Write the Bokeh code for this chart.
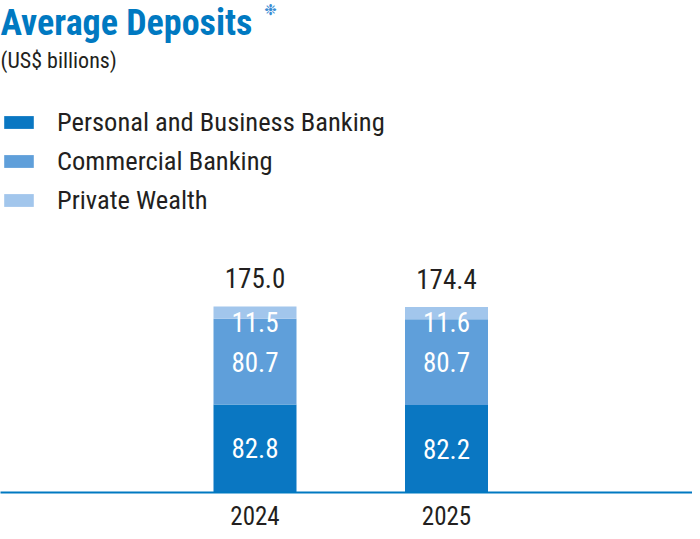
from bokeh.plotting import figure
from bokeh.models import Range1d, FixedTicker, Label, Legend, LegendItem, ColumnDataSource
from bokeh.embed import file_html
from bokeh.resources import INLINE

years = [2024, 2025]
year_labels = ["2024", "2025"]
series = ["Personal and Business Banking", "Commercial Banking", "Private Wealth"]
pbb = [82.8, 82.2]
cb = [80.7, 80.7]
pw = [11.5, 11.6]
totals = [175.0, 174.4]

colors = ["#0a77c2", "#5f9fda", "#a2c6ec"]
FONT = "Roboto Condensed"
DARK = "#231f20"
BLUE = "#0079c1"

W, H = 692, 531
frame_h = 492
px_per_unit = 1.063
px_per_year = 191.5
x0 = 2024 - 254.5 / px_per_year

p = figure(width=W, height=H, output_backend="svg", toolbar_location=None,
           x_range=Range1d(x0, x0 + W / px_per_year),
           y_range=Range1d(0, frame_h / px_per_unit),
           min_border_left=0, min_border_right=0, min_border_top=0, min_border_bottom=H - frame_h)
p.outline_line_color = None
p.grid.visible = False
p.yaxis.visible = False
p.background_fill_color = None
p.border_fill_color = None

xa = p.xaxis[0]
xa.ticker = FixedTicker(ticks=years)
xa.major_label_overrides = {y: l for y, l in zip(years, year_labels)}
xa.major_tick_line_color = None
xa.minor_tick_line_color = None
xa.axis_line_color = BLUE
xa.axis_line_width = 2
xa.major_label_text_font = FONT
xa.major_label_text_font_size = "25px"
xa.major_label_text_color = DARK
xa.major_label_standoff = 7

src = ColumnDataSource(dict(x=years, pbb=pbb, cb=cb, pw=pw, tot=totals,
                            m1=[a / 2 for a in pbb],
                            m2=[a + b / 2 for a, b in zip(pbb, cb)],
                            m3=[a + b + c / 2 for a, b, c in zip(pbb, cb, pw)],
                            t1=[f"{v:.1f}" for v in pbb],
                            t2=[f"{v:.1f}" for v in cb],
                            t3=[f"{v:.1f}" for v in pw],
                            tt=[f"{v:.1f}" for v in totals]))

rs = p.vbar_stack(["pbb", "cb", "pw"], x="x", width=83 / px_per_year, source=src,
                  color=colors, line_color=None)

for col, ycol, off in [("t1", "m1", 0), ("t2", "m2", 0), ("t3", "m3", 9)]:
    p.text(x="x", y=ycol, text=col, source=src, text_align="center", text_baseline="middle",
           text_color="white", text_font_size="27px", text_font={"value": FONT}, y_offset=off)
p.text(x="x", y="tot", text="tt", source=src, text_align="center", text_baseline="middle",
       text_color=DARK, text_font_size="27px", text_font={"value": FONT}, y_offset=-28)

legend = Legend(items=[LegendItem(label=s, renderers=[r]) for s, r in zip(series, rs)],
                location=(0, 277), orientation="vertical",
                glyph_width=37, glyph_height=16, label_height=30, label_text_font=FONT,
                label_text_font_size="26.5px", label_text_color=DARK,
                label_standoff=20, spacing=8, padding=0, margin=0,
                border_line_color=None, background_fill_color=None, background_fill_alpha=0)
p.add_layout(legend)

p.add_layout(Label(x=0, y=frame_h - 22, x_units="screen", y_units="screen", text="Average Deposits",
                   text_baseline="middle",
                   text_font=FONT, text_font_style="bold", text_font_size="36px", text_color=BLUE))
p.add_layout(Label(x=270, y=frame_h - 9, x_units="screen", y_units="screen", text="\u2749",
                   text_align="center", text_baseline="middle",
                   text_font="DejaVu Sans", text_font_size="15px", text_color="#3a8dd4"))
p.add_layout(Label(x=0, y=frame_h - 60, x_units="screen", y_units="screen", text="(US$ billions)",
                   text_baseline="middle",
                   text_font=FONT, text_font_size="22px", text_color=DARK))

open("out.html", "w").write(file_html(p, INLINE))
